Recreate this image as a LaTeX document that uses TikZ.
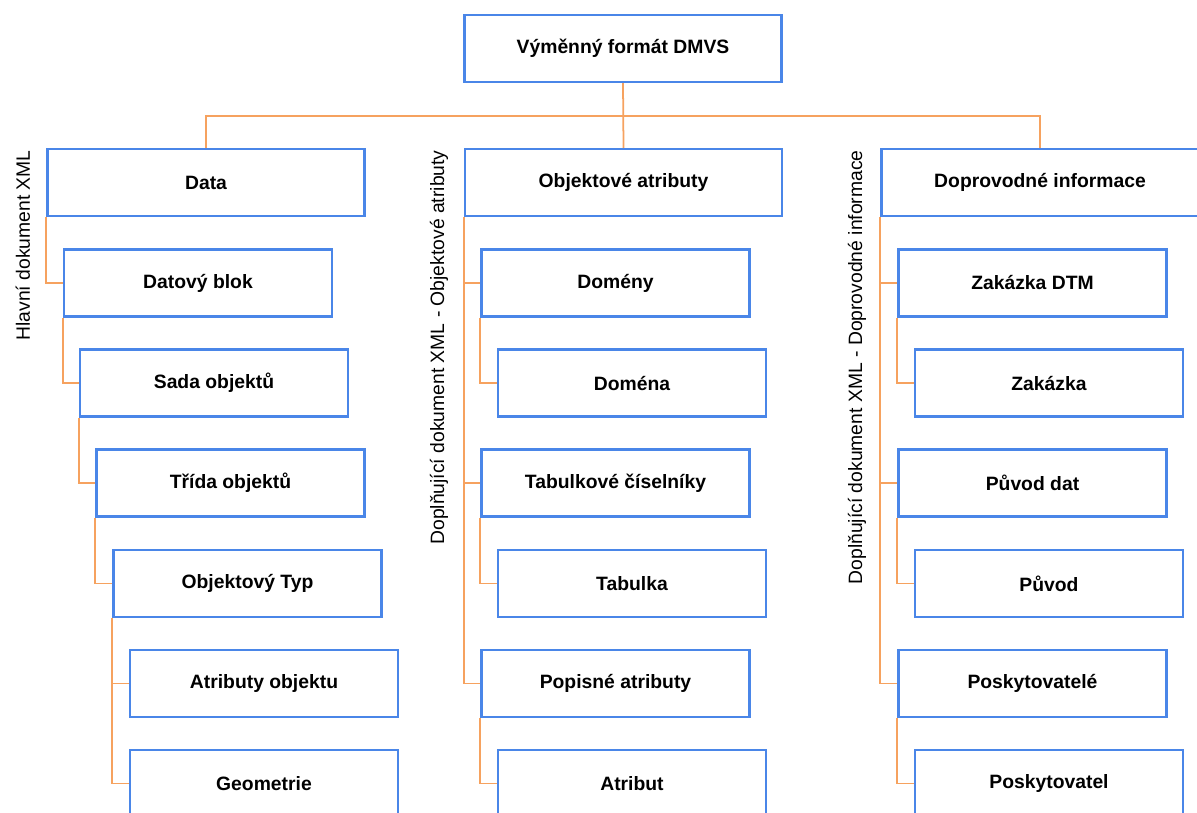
\documentclass[tikz,border=0pt]{standalone}
\usepackage{fontspec}
\setmainfont{Liberation Sans}
\usepackage{tikz}
\usetikzlibrary{backgrounds}

\definecolor{boxblue}{RGB}{74,134,232}
\definecolor{lineorange}{RGB}{246,162,95}

\begin{document}
\begin{tikzpicture}[x=0.02cm,y=-0.02cm,
    topbox/.style={draw=boxblue,line width=1.4pt,fill=white,minimum width=317*0.02cm,minimum height=67*0.02cm,inner sep=0pt,font=\fontsize{11}{13}\selectfont\bfseries},
    subbox/.style={topbox,minimum width=268*0.02cm},
    link/.style={lineorange,line width=1pt},
    doclabel/.style={rotate=90,anchor=base east,inner sep=0pt,font=\fontsize{11}{13}\selectfont}]
    \useasboundingbox (0,0) rectangle (1197,812);
    \clip (0,0) rectangle (1197,812);
    %root and the three documents
    \node[topbox] (dmvs) at (623,48.5) {Výměnný formát DMVS};
    \node[topbox] (data) at (206,182.5) {Data};
    \node[topbox] (objattr) at (623.5,182.5) {Objektové atributy};
    \node[topbox] (doprov) at (1040,182.5) {Doprovodné informace};
    \coordinate (bus) at (623,116);
    %main XML document
    \node[subbox] (blok) at (198,283) {Datový blok};
    \node[subbox] (sada) at (214,383) {Sada objektů};
    \node[subbox] (trida) at (230.5,483) {Třída objektů};
    \node[subbox] (typ) at (247.5,583.5) {Objektový Typ};
    \node[subbox] (atrobj) at (264,683.5) {Atributy objektu};
    \node[subbox] (geom) at (264,783.5) {Geometrie};
    %object attributes
    \node[subbox] (domeny) at (615.5,283) {Domény};
    \node[subbox] (domena) at (632,383) {Doména};
    \node[subbox] (ciselniky) at (615.5,483) {Tabulkové číselníky};
    \node[subbox] (tabulka) at (632,583.5) {Tabulka};
    \node[subbox] (popisne) at (615.5,683.5) {Popisné atributy};
    \node[subbox] (atribut) at (632,783.5) {Atribut};
    %accompanying information
    \node[subbox] (zakdtm) at (1032.5,283) {Zakázka DTM};
    \node[subbox] (zakazka) at (1049,383) {Zakázka};
    \node[subbox] (puvdat) at (1032.5,483) {Původ dat};
    \node[subbox] (puvod) at (1049,583.5) {Původ};
    \node[subbox] (poskyt) at (1032.5,683.5) {Poskytovatelé};
    \node[subbox] (poskytel) at (1049,783.5) {Poskytovatel};
    %side labels
    \node[doclabel] (lblmain) at (30,150) {Hlavní dokument XML};
    \node[doclabel] (lblattr) at (444,150) {Doplňující dokument XML - Objektové atributy};
    \node[doclabel] (lblinfo) at (862,150) {Doplňující dokument XML - Doprovodné informace};
    %connectors, behind the boxes
    \begin{scope}[on background layer]
    \draw[link] (dmvs.south) -- (objattr.north);
    \draw[link] (data.north) |- (bus) -| (doprov.north);
    \draw[link] (data.south west) |- (blok.west);
    \draw[link] (blok.south west) |- (sada.west);
    \draw[link] (sada.south west) |- (trida.west);
    \draw[link] (trida.south west) |- (typ.west);
    \draw[link] (typ.south west) |- (atrobj.west);
    \draw[link] (typ.south west) |- (geom.west);
    \draw[link] (objattr.south west) |- (domeny.west);
    \draw[link] (objattr.south west) |- (ciselniky.west);
    \draw[link] (objattr.south west) |- (popisne.west);
    \draw[link] (domeny.south west) |- (domena.west);
    \draw[link] (ciselniky.south west) |- (tabulka.west);
    \draw[link] (popisne.south west) |- (atribut.west);
    \draw[link] (doprov.south west) |- (zakdtm.west);
    \draw[link] (doprov.south west) |- (puvdat.west);
    \draw[link] (doprov.south west) |- (poskyt.west);
    \draw[link] (zakdtm.south west) |- (zakazka.west);
    \draw[link] (puvdat.south west) |- (puvod.west);
    \draw[link] (poskyt.south west) |- (poskytel.west);
    \end{scope}
\end{tikzpicture}
\end{document}
